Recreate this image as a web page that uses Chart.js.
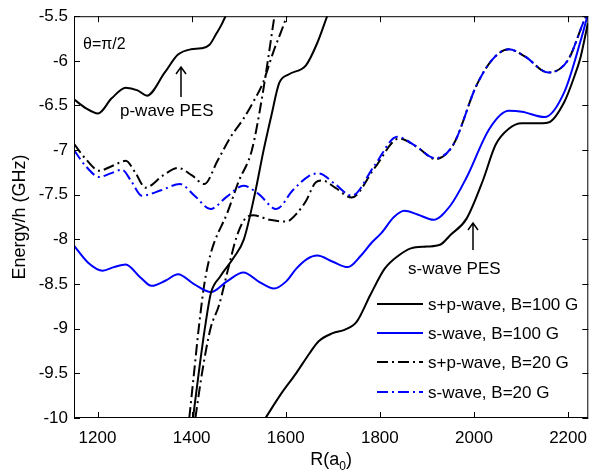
<!DOCTYPE html>
<html>
<head>
<meta charset="utf-8">
<script src="https://cdn.jsdelivr.net/npm/chart.js@4/dist/chart.umd.min.js"></script>
<style>
  html, body { margin: 0; padding: 0; background: #fff; }
  canvas { display: block; }
</style>
</head>
<body>
<canvas id="pes" width="597" height="474"></canvas>
<script>
// Axis ticks
const xTicks = [1200, 1400, 1600, 1800, 2000, 2200];
const yTicks = [-10, -9.5, -9, -8.5, -8, -7.5, -7, -6.5, -6, -5.5];

const seriesNames = ['s+p-wave, B=100 G', 's-wave, B=100 G', 's+p-wave, B=20 G', 's-wave, B=20 G'];

// s+p-wave, B=100 G (three branches)
const spB100_R1 = [1150, 1175, 1201, 1230, 1260, 1285, 1305, 1343, 1371, 1399, 1420, 1438, 1452, 1463, 1472];
const spB100_E1 = [-6.43, -6.53, -6.59, -6.42, -6.30, -6.33, -6.39, -6.13, -5.93, -5.87, -5.86, -5.82, -5.70, -5.60, -5.50];
const spB100_R2 = [1403, 1415, 1428, 1441, 1460, 1490, 1511, 1534, 1553, 1570, 1586, 1607, 1643, 1667, 1688];
const spB100_E2 = [-10, -9.5, -9.0, -8.6, -8.42, -8.2, -8.0, -7.5, -7.0, -6.6, -6.25, -6.15, -6.05, -5.8, -5.5];
const spB100_R3 = [1557, 1590, 1622, 1650, 1670, 1700, 1726, 1751, 1780, 1810, 1840, 1866, 1900, 1928, 1950, 1984, 2019, 2046, 2074, 2102, 2130, 2158, 2192, 2215, 2227, 2242];
const spB100_E3 = [-10, -9.73, -9.5, -9.28, -9.14, -9.05, -9.01, -8.92, -8.62, -8.33, -8.18, -8.1, -8.08, -8.06, -7.95, -7.77, -7.34, -6.94, -6.76, -6.70, -6.70, -6.69, -6.46, -6.15, -5.95, -5.58];

// s-wave, B=100 G
const sB100_R = [1150, 1180, 1211, 1235, 1260, 1290, 1315, 1345, 1371, 1405, 1441, 1475, 1510, 1545, 1575, 1601, 1622, 1645, 1667, 1700, 1732, 1760, 1782, 1803, 1830, 1852, 1880, 1914, 1950, 1984, 2033, 2074, 2102, 2150, 2192, 2227, 2242];
const sB100_E = [-8.07, -8.26, -8.35, -8.31, -8.28, -8.42, -8.52, -8.46, -8.39, -8.50, -8.59, -8.47, -8.37, -8.48, -8.55, -8.47, -8.33, -8.22, -8.18, -8.25, -8.31, -8.18, -8.04, -7.93, -7.75, -7.68, -7.72, -7.78, -7.62, -7.31, -6.76, -6.56, -6.57, -6.63, -6.35, -5.77, -5.48];

// s+p-wave, B=20 G (three branches)
const spB20_R1 = [1150, 1175, 1204, 1230, 1260, 1280, 1302, 1340, 1371, 1400, 1427, 1455, 1482, 1510, 1531, 1552, 1573, 1594, 1602];
const spB20_E1 = [-6.93, -7.1, -7.23, -7.18, -7.12, -7.25, -7.42, -7.28, -7.2, -7.28, -7.38, -7.12, -6.86, -6.65, -6.46, -6.24, -5.91, -5.62, -5.5];
const spB20_R2 = [1395, 1405, 1415, 1427, 1441, 1476, 1500, 1528, 1550, 1576];
const spB20_E2 = [-10, -9.5, -9.0, -8.5, -8.15, -7.7, -7.35, -7.0, -6.4, -5.5];
const spB20_R3 = [1408, 1422, 1440, 1458, 1479, 1495, 1512, 1531, 1566, 1601, 1625, 1643, 1664, 1678, 1705, 1740, 1789, 1841, 1880, 1918, 1956, 2005, 2040, 2074, 2108, 2158, 2200, 2234, 2243];
const spB20_E3 = [-10, -9.5, -9.0, -8.74, -8.3, -7.98, -7.78, -7.73, -7.78, -7.8, -7.7, -7.57, -7.36, -7.34, -7.42, -7.53, -7.2, -6.87, -6.97, -7.1, -6.94, -6.28, -5.98, -5.87, -5.95, -6.13, -5.99, -5.55, -5.45];

// s-wave, B=20 G
const sB20_R = [1150, 1175, 1204, 1228, 1252, 1272, 1294, 1335, 1375, 1408, 1440, 1475, 1510, 1542, 1580, 1615, 1649, 1670, 1705, 1740, 1789, 1837, 1875, 1918, 1956, 2005, 2040, 2074, 2108, 2158, 2200, 2234, 2243];
const sB20_E = [-7.0, -7.18, -7.3, -7.26, -7.22, -7.35, -7.51, -7.45, -7.38, -7.52, -7.66, -7.52, -7.40, -7.49, -7.66, -7.45, -7.29, -7.26, -7.38, -7.51, -7.17, -6.85, -6.95, -7.09, -6.94, -6.28, -5.98, -5.87, -5.95, -6.13, -5.99, -5.55, -5.45];

const BLUE = '#0000ff';
const DASHDOT = [11, 4, 2, 4];
const FONT = '"Liberation Sans", Arial, Helvetica, sans-serif';

function pts(rs, es) {
  return rs.map((r, i) => ({ x: r, y: es[i] }));
}

function curve(rs, es, color, dash, legendIndex) {
  return {
    data: pts(rs, es),
    borderColor: color,
    borderDash: dash,
    legendIndex: legendIndex
  };
}

const datasets = [
  curve(spB100_R1, spB100_E1, '#000', [], 0),
  curve(spB100_R2, spB100_E2, '#000', [], -1),
  curve(spB100_R3, spB100_E3, '#000', [], -1),
  curve(sB100_R, sB100_E, BLUE, [], 1),
  curve(sB20_R, sB20_E, BLUE, DASHDOT, 3),
  curve(spB20_R1, spB20_E1, '#000', DASHDOT, 2),
  curve(spB20_R2, spB20_E2, '#000', DASHDOT, -1),
  curve(spB20_R3, spB20_E3, '#000', DASHDOT, -1)
];

function arrowUp(ctx, x, y0, y1) {
  ctx.beginPath();
  ctx.moveTo(x, y0);
  ctx.lineTo(x, y1);
  ctx.moveTo(x - 5, y1 + 7);
  ctx.lineTo(x, y1);
  ctx.lineTo(x + 5, y1 + 7);
  ctx.stroke();
}

// frame, inward ticks, axis titles, notes and legend
const decorations = {
  id: 'decorations',
  afterDatasetsDraw(chart) {
    const { ctx, chartArea: a, scales } = chart;
    ctx.save();
    ctx.strokeStyle = '#000';
    ctx.lineWidth = 1;
    ctx.setLineDash([]);
    ctx.strokeRect(a.left + 0.5, a.top + 0.5, a.right - a.left - 1, a.bottom - a.top - 1);

    ctx.beginPath();
    xTicks.forEach(v => {
      const px = Math.round(scales.x.getPixelForValue(v)) + 0.5;
      ctx.moveTo(px, a.bottom); ctx.lineTo(px, a.bottom - 6);
      ctx.moveTo(px, a.top); ctx.lineTo(px, a.top + 6);
    });
    yTicks.forEach(v => {
      const py = Math.round(scales.y.getPixelForValue(v)) + 0.5;
      ctx.moveTo(a.left, py); ctx.lineTo(a.left + 6, py);
      ctx.moveTo(a.right, py); ctx.lineTo(a.right - 6, py);
    });
    ctx.stroke();

    ctx.fillStyle = '#000';
    ctx.textBaseline = 'alphabetic';

    // x title with subscript
    ctx.font = '18px ' + FONT;
    const xMid = (a.left + a.right) / 2;
    const wMain = ctx.measureText('R(a').width;
    ctx.font = '12px ' + FONT;
    const wSub = ctx.measureText('0').width;
    ctx.font = '18px ' + FONT;
    const wClose = ctx.measureText(')').width;
    let tx = xMid - (wMain + wSub + wClose) / 2;
    ctx.textAlign = 'left';
    ctx.fillText('R(a', tx, 465);
    ctx.font = '12px ' + FONT;
    ctx.fillText('0', tx + wMain, 470);
    ctx.font = '18px ' + FONT;
    ctx.fillText(')', tx + wMain + wSub, 465);

    // y title
    ctx.save();
    ctx.translate(25, (a.top + a.bottom) / 2);
    ctx.rotate(-Math.PI / 2);
    ctx.textAlign = 'center';
    ctx.font = '18px ' + FONT;
    ctx.fillText('Energy/h (GHz)', 0, 0);
    ctx.restore();

    // notes
    ctx.textAlign = 'left';
    ctx.font = '16px ' + FONT;
    ctx.fillText('\u03b8=\u03c0/2', 83, 49);
    ctx.font = '17px ' + FONT;
    ctx.fillText('p-wave PES', 120, 116);
    ctx.fillText('s-wave PES', 408, 274);
    ctx.lineWidth = 1.5;
    arrowUp(ctx, 181, 97, 67);
    arrowUp(ctx, 473, 250, 223);

    // legend
    const rows = [304, 333, 362, 392];
    chart.data.datasets.forEach(ds => {
      if (ds.legendIndex < 0) return;
      const y = rows[ds.legendIndex];
      ctx.strokeStyle = ds.borderColor;
      ctx.lineWidth = 2;
      ctx.setLineDash(ds.borderDash);
      ctx.beginPath();
      ctx.moveTo(377, y);
      ctx.lineTo(423, y);
      ctx.stroke();
      ctx.setLineDash([]);
      ctx.fillStyle = '#000';
      ctx.font = '17px ' + FONT;
      ctx.textBaseline = 'middle';
      ctx.fillText(seriesNames[ds.legendIndex], 428, y + 1);
    });
    ctx.restore();
  }
};

new Chart(document.getElementById('pes'), {
  type: 'line',
  data: { datasets: datasets },
  options: {
    responsive: false,
    animation: false,
    layout: { padding: { top: 9, right: 1, left: 0, bottom: 0 } },
    elements: {
      point: { radius: 0 },
      line: { borderWidth: 2, cubicInterpolationMode: 'monotone', fill: false }
    },
    scales: {
      x: {
        type: 'linear',
        min: 1150,
        max: 2243,
        grid: { display: false, drawTicks: false },
        border: { display: false },
        afterBuildTicks: s => { s.ticks = xTicks.map(v => ({ value: v })); },
        afterFit: s => { s.height = 56; },
        ticks: {
          color: '#000',
          padding: 10,
          maxRotation: 0,
          font: { family: FONT, size: 17 },
          callback: v => String(v)
        }
      },
      y: {
        type: 'linear',
        min: -10,
        max: -5.5,
        grid: { display: false, drawTicks: false },
        border: { display: false },
        afterBuildTicks: s => { s.ticks = yTicks.map(v => ({ value: v })); },
        afterFit: s => { s.width = 74; },
        ticks: {
          color: '#000',
          padding: 6,
          font: { family: FONT, size: 17 },
          callback: v => String(v)
        }
      }
    },
    plugins: {
      legend: { display: false },
      tooltip: { enabled: false }
    }
  },
  plugins: [decorations]
});
</script>
</body>
</html>
